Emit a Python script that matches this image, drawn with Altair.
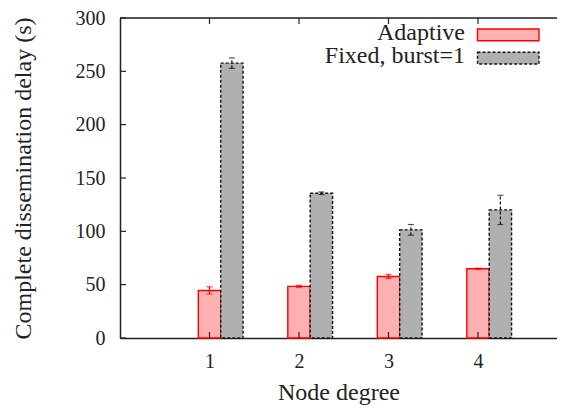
import altair as alt
import pandas as pd

degrees = [1, 2, 3, 4]
adaptive_mean = [44.6, 48.4, 57.7, 64.9]
adaptive_err = [3.4, 1.0, 1.9, 0.6]
fixed_mean = [257.7, 135.7, 101.4, 120.1]
fixed_err = [4.9, 1.2, 5.0, 13.7]
series_names = ["Adaptive", "Fixed, burst=1"]
y_ticks = [0, 50, 100, 150, 200, 250, 300]
x_ticks = [1, 2, 3, 4]

rows = []
for i, d in enumerate(degrees):
    rows.append({"degree": d, "series": series_names[0], "value": adaptive_mean[i],
                 "err": adaptive_err[i], "slot": 0})
    rows.append({"degree": d, "series": series_names[1], "value": fixed_mean[i],
                 "err": fixed_err[i], "slot": 1})
df = pd.DataFrame(rows)

W, H = 437, 320
XMAX = 4.8827
FONT = "Liberation Serif"
TXT = "#222222"
AX = "#222222"
FILLS = ["#ffb0b0", "#b0b0b0"]
STROKES = ["#ff0000", "#111111"]
DASHES = [[1, 0], [3, 2]]

xs = alt.Scale(domain=[0, XMAX], nice=False, zero=False)
ys = alt.Scale(domain=[0, 300], nice=False)
x_axis = alt.Axis(values=x_ticks, title="Node degree", ticks=False, grid=False, format="d",
                  domainColor=AX, domainWidth=1.5, labelFont=FONT, labelFontSize=20,
                  labelColor=TXT, labelPadding=13, titleFont=FONT, titleFontSize=24,
                  titleFontWeight="normal", titleColor=TXT, titlePadding=9)
y_axis = alt.Axis(values=y_ticks, title="Complete dissemination delay (s)", ticks=False,
                  grid=False, domainColor=AX, domainWidth=1.5, labelFont=FONT,
                  labelFontSize=20, labelColor=TXT, labelPadding=15, titleFont=FONT,
                  titleFontSize=24, titleFontWeight="normal", titleColor=TXT,
                  titlePadding=40)


def X(field):
    return alt.X(field, scale=xs, axis=x_axis)


def Y(field):
    return alt.Y(field, scale=ys, axis=y_axis)


base = alt.Chart(df).transform_calculate(
    x0="datum.degree - 0.125 + datum.slot * 0.25",
    x1="datum.degree + 0.125 + datum.slot * 0.25",
    xc="datum.degree + datum.slot * 0.25",
    lo="datum.value - datum.err",
    hi="datum.value + datum.err",
)

data_layers = []
for k, name in enumerate(series_names):
    s = base.transform_filter(alt.datum.series == name)
    data_layers.append(s.mark_rect(fill=FILLS[k], stroke=STROKES[k], strokeDash=DASHES[k],
                                   strokeWidth=1.4).encode(
        x=X("x0:Q"), x2="x1:Q", y=Y("value:Q"), y2=alt.datum(0)))
    data_layers.append(s.mark_rule(color=STROKES[k], strokeDash=DASHES[k],
                                   strokeWidth=1.2).encode(
        x=X("xc:Q"), y=Y("lo:Q"), y2="hi:Q"))
    data_layers.append(s.mark_tick(orient="horizontal", size=6, thickness=1.2,
                                   color=STROKES[k]).encode(x=X("xc:Q"), y=Y("lo:Q")))
    data_layers.append(s.mark_tick(orient="horizontal", size=6, thickness=1.2,
                                   color=STROKES[k]).encode(x=X("xc:Q"), y=Y("hi:Q")))

ytk = pd.DataFrame({"t": y_ticks})
xtk = pd.DataFrame({"t": x_ticks})
ytick_marks = alt.Chart(ytk).mark_rule(color=AX, strokeWidth=1.2).encode(
    y=Y("t:Q"), x=alt.value(0), x2=alt.value(6))
xtick_bot = alt.Chart(xtk).mark_rule(color=AX, strokeWidth=1.2).encode(
    x=X("t:Q"), y=alt.value(H), y2=alt.value(H - 6))
xtick_top = alt.Chart(xtk).mark_rule(color=AX, strokeWidth=1.2).encode(
    x=X("t:Q"), y=alt.value(0), y2=alt.value(6))
top_line = alt.Chart(pd.DataFrame({"a": [0]})).mark_rule(color=AX, strokeWidth=1.5).encode(
    x=alt.value(0), x2=alt.value(W), y=alt.value(0))

leg_df = pd.DataFrame({"series": series_names})
legend_layers = []
leg_text_y = [22, 45.3]
leg_rect_y = [(11, 22.7), (34.3, 46)]
for k, name in enumerate(series_names):
    one = alt.Chart(leg_df).transform_filter(alt.datum.series == name)
    legend_layers.append(one.mark_text(align="right", baseline="alphabetic", font=FONT,
                                       fontSize=24, color=TXT).encode(
        x=alt.value(345), y=alt.value(leg_text_y[k]), text="series:N"))
    legend_layers.append(one.mark_rect(fill=FILLS[k], stroke=STROKES[k],
                                       strokeDash=DASHES[k], strokeWidth=1.4).encode(
        x=alt.value(357.5), x2=alt.value(419),
        y=alt.value(leg_rect_y[k][0]), y2=alt.value(leg_rect_y[k][1])))

chart = alt.layer(
    *data_layers, ytick_marks, xtick_bot, xtick_top, top_line, *legend_layers
).properties(
    width=W, height=H,
    autosize=alt.AutoSizeParams(type="none"),
    padding={"left": 112, "top": 10, "right": 0, "bottom": 68},
).configure_view(stroke=None).configure(background="white")

chart.save("out.html", embed_options={"renderer": "svg", "actions": False})
